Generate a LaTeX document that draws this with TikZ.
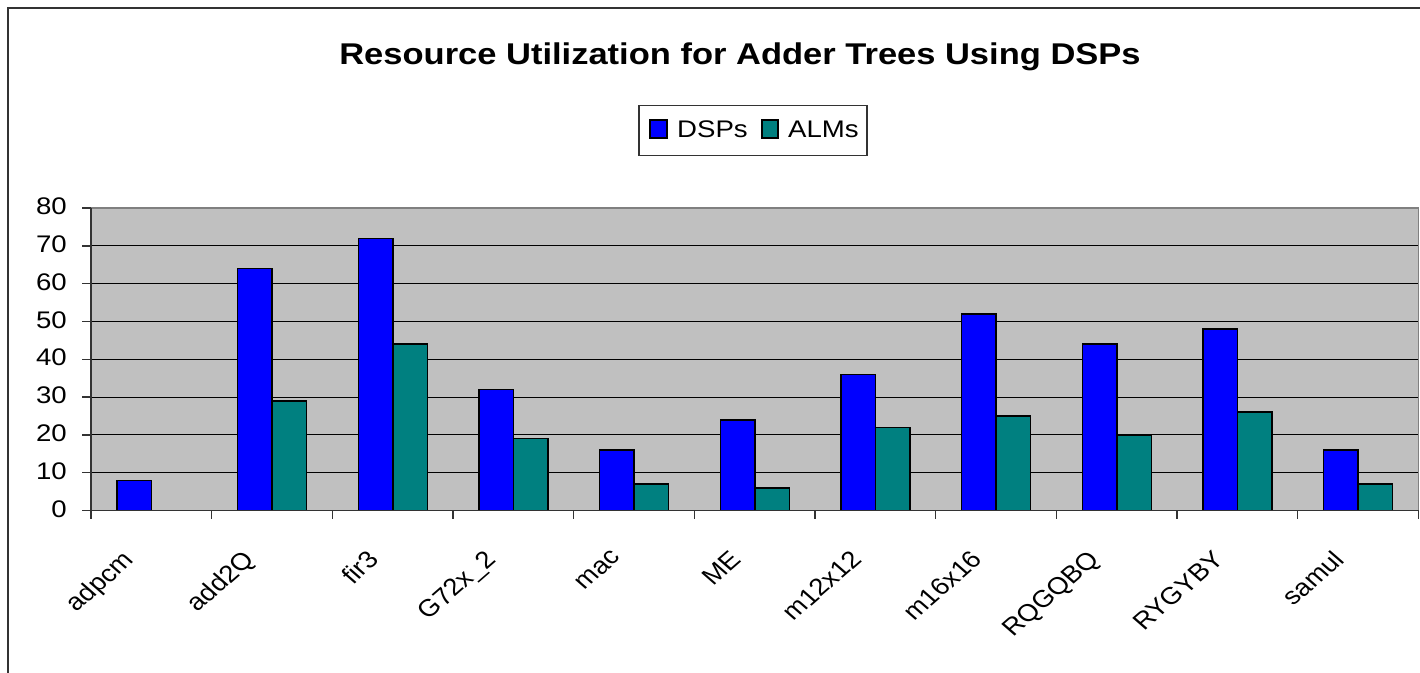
\documentclass[tikz,border=0pt]{standalone}
\usepackage{fontspec}
\setmainfont{Liberation Sans}
\usepackage{graphicx}
\definecolor{dspblue}{HTML}{0000FF}
\definecolor{almteal}{HTML}{008080}
\definecolor{plotgray}{HTML}{C0C0C0}
\definecolor{framegray}{HTML}{333333}
\definecolor{edgegray}{HTML}{808080}
% horizontally widened lettering, as in the chart
\newcommand{\widetext}[1]{\scalebox{1.15}[1]{#1}}
\tikzset{
  ticktext/.style={font=\fontsize{24}{24}\selectfont, inner sep=0pt},
  titletext/.style={font=\fontsize{30}{30}\selectfont\bfseries, inner sep=0pt},
  gridline/.style={draw=black, line width=1pt},
  axisline/.style={draw=black!80, line width=1.3pt},
  bar/.style={draw=black, line width=1.5pt},
  keybox/.style={draw=black, line width=1.2pt},
}
\begin{document}
\begin{tikzpicture}[x=1pt, y=-1pt]
\useasboundingbox (0,0) rectangle (1420,672);
\fill[white] (0,0) rectangle (1420,672);
% outer chart frame
\draw[framegray, line width=1.5pt] (8,680) -- (8,8) -- (1430,8);

% plot area geometry
\def\xl{91}
\def\xr{1418.5}
\def\yz{510.5}
\def\ys{3.78}
\def\cw{120.68}

\fill[plotgray] (\xl,208) rectangle (\xr,\yz);
\foreach \v in {10,20,...,70}
  \draw[gridline] (\xl,\yz-\ys*\v) -- (\xr,\yz-\ys*\v);
\draw[edgegray, line width=1.3pt] (\xl,208) -- (\xr,208) -- (\xr,\yz);

% bars
\foreach \lab/\d/\a [count=\i from 0] in
  {adpcm/8/0, add2Q/64/29, fir3/72/44, G72x\_2/32/19, mac/16/7, ME/24/6,
   m12x12/36/22, m16x16/52/25, RQGQBQ/44/20, RYGYBY/48/26, samul/16/7} {
  \pgfmathsetmacro{\xs}{\xl+\i*\cw+25.9}
  \filldraw[bar, fill=dspblue] (\xs,\yz) rectangle (\xs+34.5,\yz-\ys*\d);
  \ifnum\a>0
    \filldraw[bar, fill=almteal] (\xs+34.5,\yz) rectangle (\xs+69,\yz-\ys*\a);
  \fi
  \pgfmathsetmacro{\xc}{\xl+(\i+0.5)*\cw}
  \node[ticktext, anchor=north east] (lab\i) at (\xc-12,549)
    {\widetext{\rotatebox{45}{\lab}}};
}

% axes and ticks
\draw[axisline] (\xl,208) -- (\xl,\yz) -- (\xr,\yz);
\foreach \v in {0,10,...,80} {
  \draw[axisline] (82,\yz-\ys*\v) -- (\xl,\yz-\ys*\v);
  \node[ticktext, anchor=base east] (y\v) at (67,\yz-\ys*\v+6.5) {\widetext{\v}};
}
\foreach \k in {0,...,11}
  \draw[axisline] (\xl+\k*\cw,\yz) -- (\xl+\k*\cw,519);

% title
\node[titletext, anchor=base] (title) at (740,64.3)
  {\widetext{Resource Utilization for Adder Trees Using DSPs}};

% legend
\draw[framegray, line width=1.2pt] (639,105.5) rectangle (867,155.7);
\filldraw[keybox, fill=dspblue] (650,120) rectangle (667,138);
\node[ticktext, anchor=base west] (keydsp) at (677,137.3) {\widetext{DSPs}};
\filldraw[keybox, fill=almteal] (762,120) rectangle (778,138);
\node[ticktext, anchor=base west] (keyalm) at (788,137.3) {\widetext{ALMs}};
\end{tikzpicture}
\end{document}
